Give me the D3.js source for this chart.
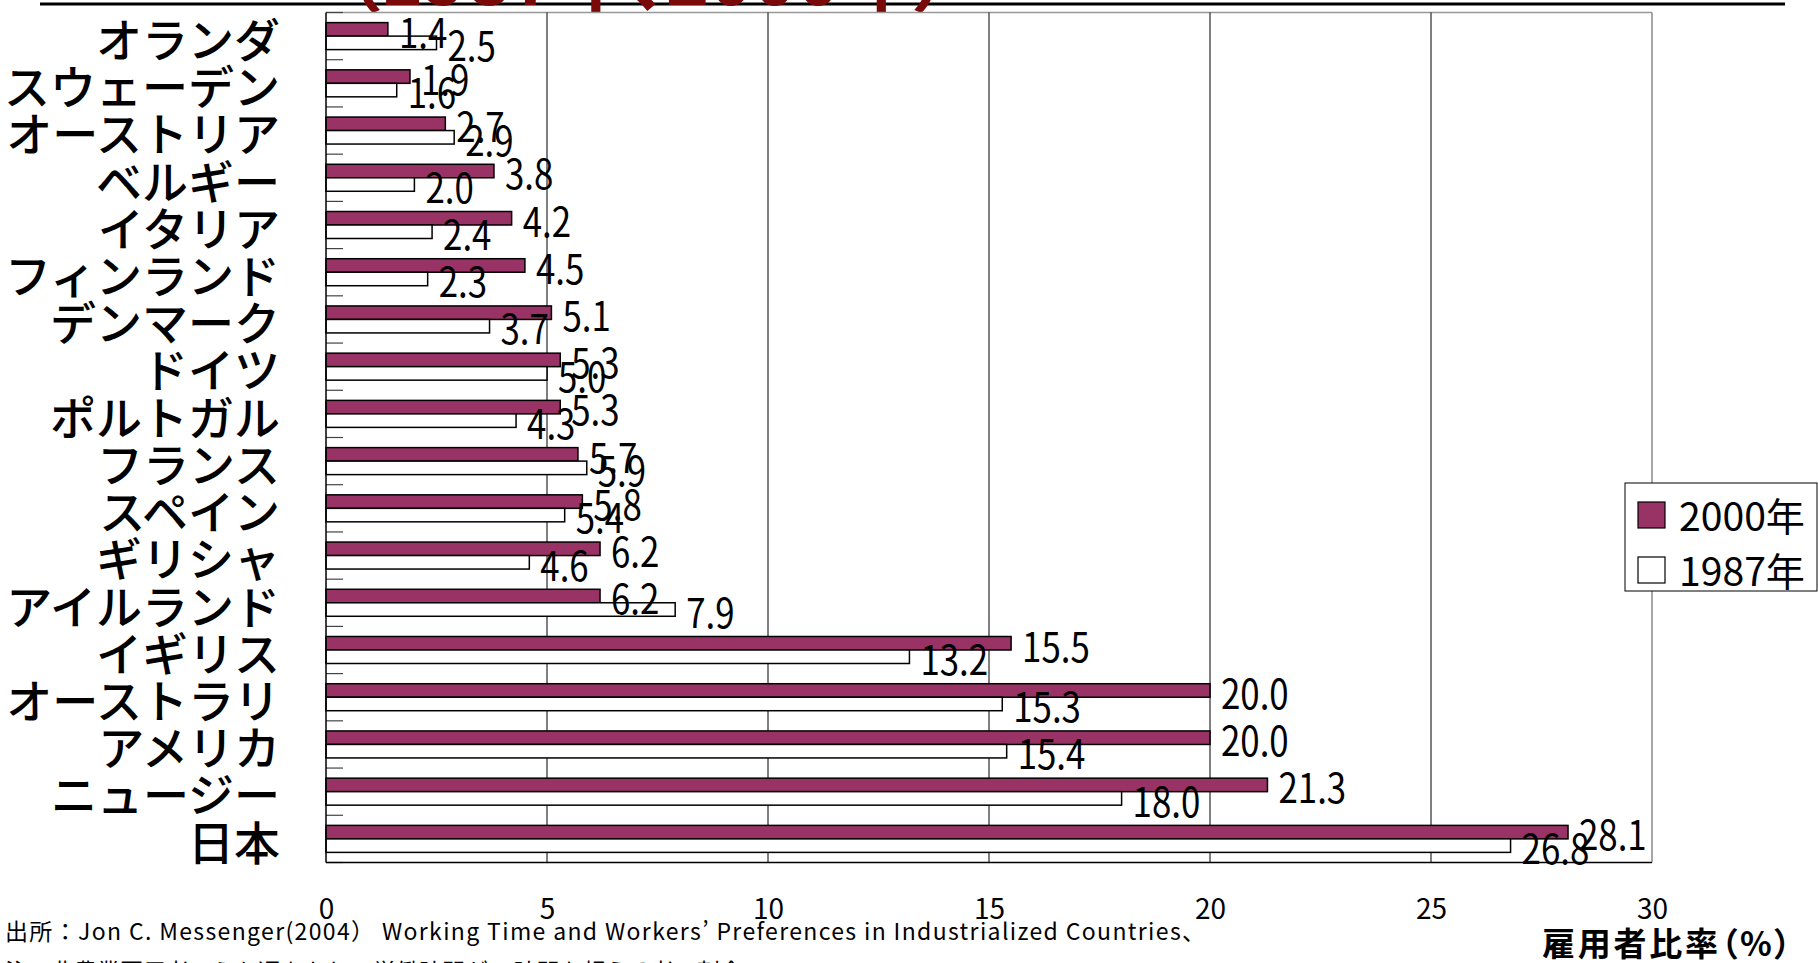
<!DOCTYPE html>
<html lang="ja">
<head>
<meta charset="utf-8">
<script src="https://cdn.jsdelivr.net/npm/d3@7"></script>
<style>
  html, body { margin: 0; padding: 0; background: #fff; overflow: hidden; }
  svg { display: block; }
  text { font-family: "Noto Sans CJK JP", "Noto Sans", sans-serif; }
</style>
</head>
<body>
<svg id="chart" width="1818" height="963"></svg>
<script>
// Countries, top to bottom
const countries = [
  "オランダ", "スウェーデン", "オーストリア", "ベルギー", "イタリア", "フィンランド",
  "デンマーク", "ドイツ", "ポルトガル", "フランス", "スペイン", "ギリシャ",
  "アイルランド", "イギリス", "オーストラリ", "アメリカ", "ニュージー", "日本"
];
// Share of employees (%) in each year
const values2000 = [1.4, 1.9, 2.7, 3.8, 4.2, 4.5, 5.1, 5.3, 5.3, 5.7, 5.8, 6.2, 6.2, 15.5, 20.0, 20.0, 21.3, 28.1];
const values1987 = [2.5, 1.6, 2.9, 2.0, 2.4, 2.3, 3.7, 5.0, 4.3, 5.9, 5.4, 4.6, 7.9, 13.2, 15.3, 15.4, 18.0, 26.8];
const xTicks = [0, 5, 10, 15, 20, 25, 30];
const seriesNames = ["2000年", "1987年"];

const svg = d3.select("#chart");

const x = d3.scaleLinear().domain([0, 30]).range([326, 1652]);
const y = d3.scaleBand().domain(countries).range([12.5, 862.5]).paddingInner(0).paddingOuter(0);
const barH = 13.5;
const barOffset = (y.bandwidth() - 2 * barH) / 2;
const narrow = 0.85; // horizontal squeeze for the condensed numerals

// Title strip (only its lower edge falls inside the page)
svg.append("line")
  .attr("x1", 40).attr("x2", 1785).attr("y1", 4).attr("y2", 4)
  .attr("stroke", "#000").attr("stroke-width", 3);
svg.append("text")
  .attr("x", 343).attr("y", 5)
  .attr("font-size", 74).attr("font-weight", "bold")
  .attr("fill", "#7a0a0a")
  .style("font-feature-settings", "'palt'")
  .text("（1987年、2000年）");

// Plot frame: top edge in grey
svg.append("line")
  .attr("x1", x(0)).attr("x2", x(30)).attr("y1", 12.5).attr("y2", 12.5)
  .attr("stroke", "#999").attr("stroke-width", 1.5);

// Vertical gridlines
svg.append("g").selectAll("line")
  .data(xTicks.filter(d => d > 0 && d < 30))
  .join("line")
  .attr("x1", d => x(d)).attr("x2", d => x(d))
  .attr("y1", 12.5).attr("y2", 862.5)
  .attr("stroke", "#000").attr("stroke-width", 1);
svg.append("line")
  .attr("x1", x(30)).attr("x2", x(30)).attr("y1", 12.5).attr("y2", 862.5)
  .attr("stroke", "#888").attr("stroke-width", 1.5);

// Category boundary ticks on the inside of the left axis
const boundaries = countries.map(c => y(c)).concat([y.range()[1]]);
svg.append("g").selectAll("line")
  .data(boundaries)
  .join("line")
  .attr("x1", x(0)).attr("x2", x(0) + 17)
  .attr("y1", d => d).attr("y2", d => d)
  .attr("stroke", "#444").attr("stroke-width", 1.2);

// Bars
const bars = svg.append("g");
bars.selectAll("rect.y2000")
  .data(countries)
  .join("rect")
  .attr("class", "y2000")
  .attr("x", x(0))
  .attr("y", d => y(d) + barOffset)
  .attr("width", (d, i) => x(values2000[i]) - x(0))
  .attr("height", barH)
  .attr("fill", "#993366").attr("stroke", "#000").attr("stroke-width", 1.5);
bars.selectAll("rect.y1987")
  .data(countries)
  .join("rect")
  .attr("class", "y1987")
  .attr("x", x(0))
  .attr("y", d => y(d) + barOffset + barH)
  .attr("width", (d, i) => x(values1987[i]) - x(0))
  .attr("height", barH)
  .attr("fill", "#fff").attr("stroke", "#000").attr("stroke-width", 1.5);

// Axes lines (left and bottom)
svg.append("line")
  .attr("x1", x(0)).attr("x2", x(0)).attr("y1", 12.5).attr("y2", 862.5)
  .attr("stroke", "#000").attr("stroke-width", 1.5);
svg.append("line")
  .attr("x1", x(0)).attr("x2", x(30)).attr("y1", 862.5).attr("y2", 862.5)
  .attr("stroke", "#000").attr("stroke-width", 1.5);

// Value labels
const labels = svg.append("g").attr("font-size", 41).attr("fill", "#000");
labels.selectAll("text.l2000")
  .data(countries)
  .join("text")
  .attr("class", "l2000")
  .attr("transform", (d, i) =>
    `translate(${x(values2000[i]) + 11},${y(d) + barOffset + barH / 2 + 0.5}) scale(${narrow},1)`)
  .attr("dominant-baseline", "central")
  .text((d, i) => values2000[i].toFixed(1));
labels.selectAll("text.l1987")
  .data(countries)
  .join("text")
  .attr("class", "l1987")
  .attr("transform", (d, i) =>
    `translate(${x(values1987[i]) + 11},${y(d) + barOffset + barH * 1.5 + 0.5}) scale(${narrow},1)`)
  .attr("dominant-baseline", "central")
  .text((d, i) => values1987[i].toFixed(1));

// Country names
const yAxis = svg.append("g")
  .attr("transform", `translate(${x(0)},6)`)
  .call(d3.axisLeft(y).tickSize(0).tickPadding(46));
yAxis.select(".domain").remove();
yAxis.selectAll("text")
  .attr("font-family", "Noto Sans CJK JP")
  .attr("font-size", 46)
  .attr("font-weight", 500)
  .attr("fill", "#000");

// X tick labels, set well below the plot
const xAxis = svg.append("g")
  .attr("transform", `translate(0,862.5)`)
  .call(d3.axisBottom(x).tickValues(xTicks).tickSize(0).tickPadding(37).tickFormat(d3.format("d")));
xAxis.select(".domain").remove();
xAxis.selectAll("text")
  .attr("font-family", "Noto Sans CJK JP")
  .attr("font-size", 28)
  .attr("fill", "#000");

// Legend
const legend = svg.append("g");
legend.append("rect")
  .attr("x", 1625).attr("y", 483).attr("width", 192).attr("height", 108)
  .attr("fill", "#fff").attr("stroke", "#000").attr("stroke-width", 1);
const legendFill = ["#993366", "#fff"];
seriesNames.forEach((name, i) => {
  legend.append("rect")
    .attr("x", 1638).attr("y", 502 + i * 55).attr("width", 27).attr("height", 26)
    .attr("fill", legendFill[i]).attr("stroke", "#000").attr("stroke-width", 1.2);
  legend.append("text")
    .attr("x", 1679).attr("y", 514 + i * 55)
    .attr("dominant-baseline", "central")
    .attr("font-size", 39).attr("fill", "#000")
    .attr("textLength", 126).attr("lengthAdjust", "spacingAndGlyphs")
    .text(name);
});

// Axis title
svg.append("text")
  .attr("x", 1542).attr("y", 956)
  .attr("font-size", 33).attr("font-weight", "bold")
  .style("font-feature-settings", "'palt'")
  .attr("textLength", 249).attr("lengthAdjust", "spacing")
  .text("雇用者比率（%）");

// Source note
svg.append("text")
  .attr("x", 5).attr("y", 940)
  .attr("font-size", 23)
  .attr("textLength", 1200).attr("lengthAdjust", "spacing")
  .text("出所：Jon C. Messenger(2004）  Working Time and Workers’ Preferences in Industrialized Countries、");
svg.append("text")
  .attr("x", 5).attr("y", 980)
  .attr("font-size", 23)
  .text("注：非農業雇用者のうち週あたりの労働時間が50時間を超える者の割合");
</script>
</body>
</html>
